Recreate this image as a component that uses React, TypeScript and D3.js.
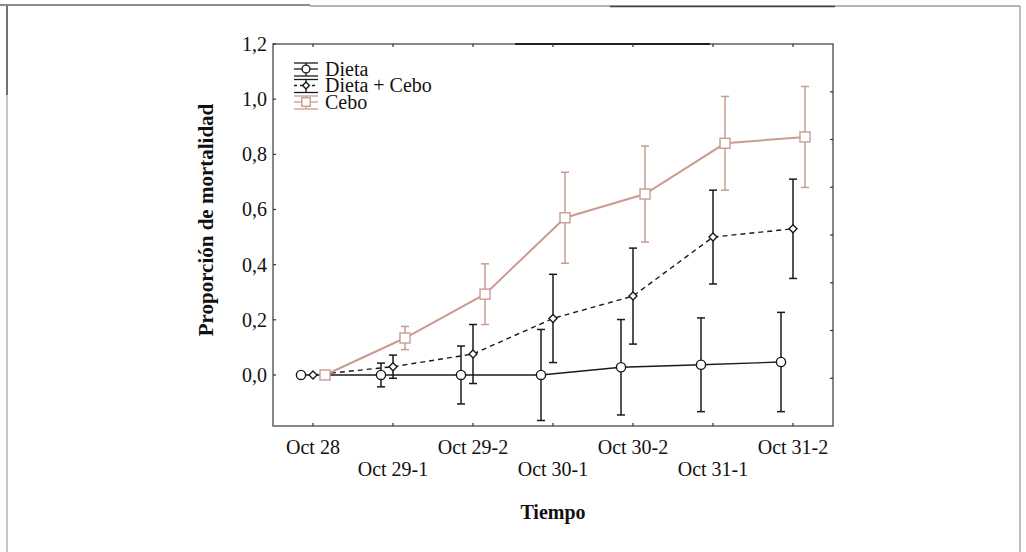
import React from 'react';
import * as d3 from 'd3';

const categories = ['Oct 28', 'Oct 29-1', 'Oct 29-2', 'Oct 30-1', 'Oct 30-2', 'Oct 31-1', 'Oct 31-2'];
const dietaMean = [0, 0, 0, 0, 0.028, 0.037, 0.047];
const dietaErr = [0, 0.043, 0.105, 0.165, 0.173, 0.17, 0.18];
const dietaCeboMean = [0, 0.03, 0.076, 0.205, 0.286, 0.5, 0.53];
const dietaCeboErr = [0, 0.042, 0.107, 0.16, 0.174, 0.17, 0.18];
const ceboMean = [0, 0.134, 0.293, 0.57, 0.656, 0.84, 0.863];
const ceboErr = [0, 0.042, 0.11, 0.165, 0.174, 0.17, 0.183];
const yTicks = [0, 0.2, 0.4, 0.6, 0.8, 1.0, 1.2];
const legendLabels = ['Dieta', 'Dieta + Cebo', 'Cebo'];

const FONT = '"Liberation Serif", "Times New Roman", serif';
const W = 1026;
const H = 552;
const M = { left: 273, right: 833, top: 44, bottom: 426 };

const locale = d3.formatLocale({ decimal: ',', thousands: '.', grouping: [3], currency: ['', ''] });
const fmt = locale.format('.1f');

type Series = {
  name: string;
  mean: number[];
  err: number[];
  color: string;
  dash?: string;
  marker: 'circle' | 'diamond' | 'square';
  offset: number;
};

const series: Series[] = [
  { name: legendLabels[0], mean: dietaMean, err: dietaErr, color: '#1a1a1a', marker: 'circle', offset: -12 },
  { name: legendLabels[1], mean: dietaCeboMean, err: dietaCeboErr, color: '#1a1a1a', dash: '5,4', marker: 'diamond', offset: 0 },
  { name: legendLabels[2], mean: ceboMean, err: ceboErr, color: '#c99c92', marker: 'square', offset: 12 },
];

function Marker({ kind, x, y, color, s = 1 }: { kind: string; x: number; y: number; color: string; s?: number }) {
  if (kind === 'circle') return <circle cx={x} cy={y} r={4.6 * s} fill="#fff" stroke={color} strokeWidth={1.4} />;
  if (kind === 'diamond') {
    const r = 4 * s;
    return (
      <path d={`M${x},${y - r}L${x + r},${y}L${x},${y + r}L${x - r},${y}Z`} fill="#fff" stroke={color} strokeWidth={1.4} />
    );
  }
  return <rect x={x - 5 * s} y={y - 5 * s} width={10 * s} height={10 * s} fill="#fff" stroke={color} strokeWidth={1.4} />;
}

export default function App() {
  const x = d3.scalePoint<string>().domain(categories).range([M.left, M.right]).padding(0.5);
  const y = d3.scaleLinear().domain([-0.185, 1.2]).range([M.bottom, M.top]);
  const rightTickScale = d3.scaleLinear().domain([0, 8]).range([M.bottom, M.top]);
  const rightTicks = d3.range(1, 8);

  return (
    <svg width={W} height={H} style={{ position: 'absolute', left: 0, top: 0, background: '#fff' }} fontFamily={FONT}>
      <rect x={0} y={0} width={W} height={H} fill="#fff" />
      {/* outer scan frame */}
      <line x1={0} x2={310} y1={5} y2={5} stroke="#666" strokeWidth={1.5} />
      <line x1={310} x2={1020} y1={6} y2={6} stroke="#9a9a9a" strokeWidth={1.3} />
      <line x1={610} x2={835} y1={6.5} y2={6.5} stroke="#444" strokeWidth={1.5} />
      <line x1={7} x2={7} y1={6} y2={H} stroke="#a8a8a8" strokeWidth={1.3} />
      <line x1={7} x2={7} y1={6} y2={95} stroke="#555" strokeWidth={1.5} />
      <line x1={1020} x2={1020} y1={6} y2={H} stroke="#9a9a9a" strokeWidth={1.3} />

      {/* plot frame */}
      <rect x={M.left} y={M.top} width={M.right - M.left} height={M.bottom - M.top} fill="none" stroke="#555" strokeWidth={1.4} />
      <line x1={515} x2={710} y1={M.top} y2={M.top} stroke="#222" strokeWidth={1.8} />

      {/* ticks */}
      {yTicks.map((t) => (
        <g key={'yt' + t}>
          <line x1={M.left} x2={M.left + 3} y1={y(t)} y2={y(t)} stroke="#333" strokeWidth={1.2} />
          <text x={267} y={y(t)} dy="0.35em" textAnchor="end" fontSize={20} fill="#111">
            {fmt(t)}
          </text>
        </g>
      ))}
      {rightTicks.map((t) => (
        <line key={'rt' + t} x1={M.right - 3} x2={M.right} y1={rightTickScale(t)} y2={rightTickScale(t)} stroke="#333" strokeWidth={1.2} />
      ))}
      {categories.map((c, i) => (
        <g key={'xt' + c}>
          <line x1={x(c)!} x2={x(c)!} y1={M.bottom} y2={M.bottom - 3} stroke="#333" strokeWidth={1.2} />
          <line x1={x(c)!} x2={x(c)!} y1={M.top} y2={M.top + 3} stroke="#333" strokeWidth={1.2} />
          <text x={x(c)!} y={i % 2 === 0 ? 447 : 469} dy="0.35em" textAnchor="middle" fontSize={20} fill="#111">
            {c}
          </text>
        </g>
      ))}

      {/* series */}
      {series.map((s) => {
        const pts = categories.map((c, i) => [x(c)! + s.offset, y(s.mean[i])] as [number, number]);
        const path = d3.line()(pts) || '';
        return (
          <g key={s.name}>
            <path d={path} fill="none" stroke={s.color} strokeWidth={s.marker === 'square' ? 2 : 1.4} strokeDasharray={s.dash} />
            {categories.map((c, i) => {
              if (s.err[i] <= 0) return null;
              const cx = x(c)! + s.offset;
              const y1 = y(s.mean[i] + s.err[i]);
              const y2 = y(s.mean[i] - s.err[i]);
              return (
                <g key={'e' + c} stroke={s.color} strokeWidth={1.5}>
                  <line x1={cx} x2={cx} y1={y1} y2={y2} />
                  <line x1={cx - 4} x2={cx + 4} y1={y1} y2={y1} />
                  <line x1={cx - 4} x2={cx + 4} y1={y2} y2={y2} />
                </g>
              );
            })}
            {pts.map((p, i) => (
              <Marker key={'m' + i} kind={s.marker} x={p[0]} y={p[1]} color={s.color} />
            ))}
          </g>
        );
      })}

      {/* legend */}
      {series.map((s, i) => {
        const cy = 69 + i * 16.5;
        const cx = 306;
        return (
          <g key={'lg' + s.name}>
            <g stroke={s.color} strokeWidth={1.3}>
              <line x1={294} x2={318} y1={cy - 6} y2={cy - 6} />
              <line x1={294} x2={318} y1={cy + 7} y2={cy + 7} />
              <line x1={cx} x2={cx} y1={cy - 6} y2={cy + 7} />
              <line x1={294} x2={318} y1={cy} y2={cy} strokeDasharray={s.dash ? '3,3' : undefined} />
            </g>
            <Marker kind={s.marker} x={cx} y={cy} color={s.color} s={0.85} />
            <text x={325} y={cy} dy="0.33em" fontSize={20} fill="#111">
              {s.name}
            </text>
          </g>
        );
      })}

      {/* axis titles */}
      <text x={553} y={512} dy="0.35em" textAnchor="middle" fontSize={20} fontWeight="bold" fill="#111">
        Tiempo
      </text>
      <text
        transform={`translate(206,${(M.top + M.bottom) / 2 - 15}) rotate(-90)`}
        dy="0.35em"
        textAnchor="middle"
        fontSize={21}
        fontWeight="bold"
        fill="#111"
      >
        Proporción de mortalidad
      </text>
    </svg>
  );
}
